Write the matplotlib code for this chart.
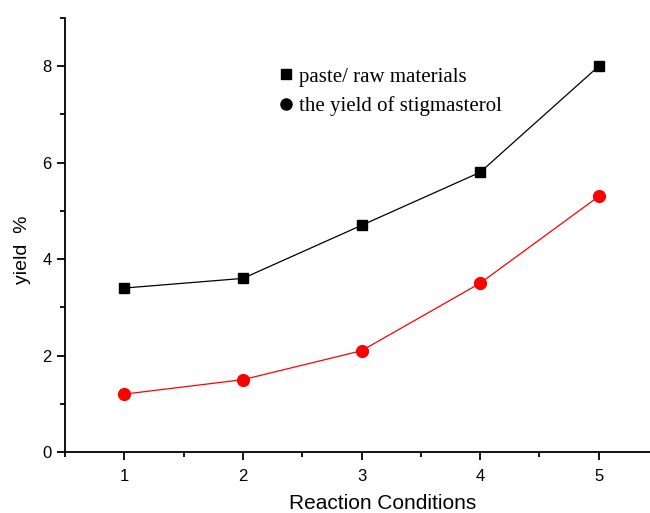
import matplotlib
matplotlib.use("Agg")
import matplotlib.pyplot as plt
import matplotlib.lines as mlines
from matplotlib.ticker import MultipleLocator

conditions = [1, 2, 3, 4, 5]
paste_raw = [3.4, 3.6, 4.7, 5.8, 8.0]
stig_yield = [1.2, 1.5, 2.1, 3.5, 5.3]
labels = ['paste/ raw materials', 'the yield of stigmasterol']

plt.rcParams['font.family'] = ['Liberation Sans', 'DejaVu Sans']

fig = plt.figure(figsize=(6.5, 5.13), dpi=100)
ax = fig.add_axes([65/650, 1-452/513, (658-65)/650, (452-18)/513])

ax.plot(conditions, paste_raw, color='black', lw=0.9, marker='s', ms=7.5,
        mec='black', mfc='black')
ax.plot(conditions, stig_yield, color='red', lw=0.9, marker='o', ms=8.5,
        mec='red', mfc='red')

ax.set_xlim(0.5, 5.5)
ax.set_ylim(0, 9)
ax.xaxis.set_major_locator(MultipleLocator(1))
ax.xaxis.set_minor_locator(MultipleLocator(0.5))
ax.yaxis.set_major_locator(MultipleLocator(2))
ax.yaxis.set_minor_locator(MultipleLocator(1))
for s in ['top', 'right']:
    ax.spines[s].set_visible(False)
for s in ['left', 'bottom']:
    ax.spines[s].set_linewidth(1.3)
ax.tick_params(which='major', direction='out', length=6, width=1.3, labelsize=12)
ax.tick_params(which='minor', direction='out', length=3.5, width=1.3)
ax.tick_params(axis='x', pad=6)

ax.set_xlabel('Reaction Conditions', fontsize=15)
ax.xaxis.set_label_coords((383-65)/593, -(494-452)/434)
ax.set_ylabel('yield  %', fontsize=14)
ax.yaxis.set_label_coords(-0.058, 1 - (250-18)/434)

hs = [mlines.Line2D([], [], ls='none', marker='s', ms=7.5, color='black'),
      mlines.Line2D([], [], ls='none', marker='o', ms=8, color='black')]
ax.legend(hs, labels, loc='upper left', bbox_to_anchor=(0.33, 0.93),
          frameon=False, handlelength=0.6, handletextpad=0.35,
          labelspacing=0.45, prop={'family': 'Liberation Serif', 'size': 15})

fig.savefig('out.png', dpi=100)
